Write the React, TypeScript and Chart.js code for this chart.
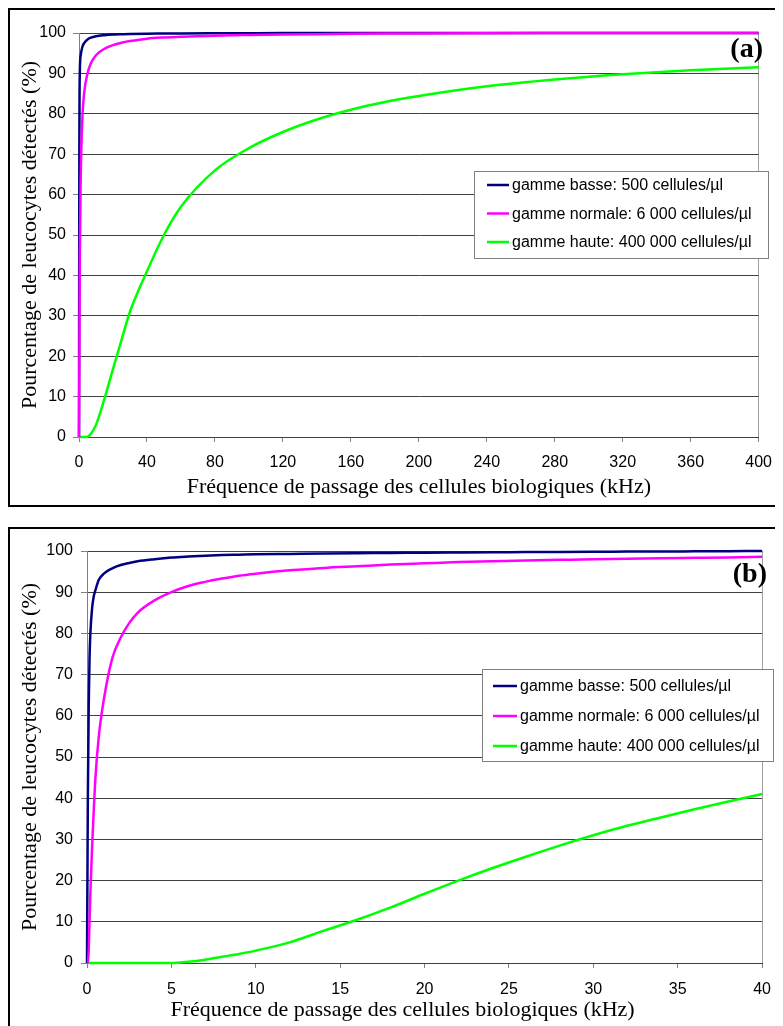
import React, { useEffect, useRef } from 'react';
import { Chart, registerables } from 'chart.js';

Chart.register(...registerables);

// ---------- data ----------
const seriesLabels = [
  'gamme basse: 500 cellules/µl',
  'gamme normale: 6 000 cellules/µl',
  'gamme haute: 400 000 cellules/µl',
];
const seriesColors = ['#000080', '#FF00FF', '#00FF00'];
const drawOrder = [1, 0, 2];

const xTitle = 'Fréquence de passage des cellules biologiques (kHz)';
const yTitle = 'Pourcentage de leucocytes détectés (%)';

const yTicks = [0, 10, 20, 30, 40, 50, 60, 70, 80, 90, 100];
const xTicksA = [0, 40, 80, 120, 160, 200, 240, 280, 320, 360, 400];
const xTicksB = [0, 5, 10, 15, 20, 25, 30, 35, 40];

// panel (a): 0 - 400 kHz
const freqA = [0, 0.2, 0.5, 1, 2, 3, 5, 7, 10, 15, 20, 25, 30, 40, 50, 60, 80, 100, 120, 140, 160, 180, 200, 240, 280, 320, 360, 400];
const basseA = [0, 70, 90.5, 94.5, 96.6, 97.5, 98.4, 98.85, 99.2, 99.45, 99.6, 99.68, 99.75, 99.82, 99.86, 99.9, 99.93, 99.95, 99.97, 99.98, 99.99, 100, 100, 100, 100, 100, 100, 100];
const normaleA = [0, 17, 45, 64, 79, 85, 90, 92.5, 94.5, 96.1, 97, 97.6, 98, 98.6, 98.9, 99.1, 99.35, 99.5, 99.62, 99.72, 99.8, 99.86, 99.9, 99.95, 99.98, 100, 100, 100];
const hauteA = [0, 0, 0, 0, 0, 0, 0.05, 0.8, 3, 9.5, 16.8, 24, 31, 41, 50, 57, 66, 71.5, 75.5, 78.6, 81, 82.9, 84.4, 86.8, 88.5, 89.8, 90.8, 91.5];

// panel (b): 0 - 40 kHz
const freqB = [0, 0.05, 0.1, 0.15, 0.2, 0.3, 0.4, 0.5, 0.7, 1, 1.5, 2, 2.5, 3, 4, 5, 6, 7, 8, 9, 10, 12, 14, 16, 18, 20, 22, 24, 26, 28, 30, 32, 34, 36, 38, 40];
const basseB = [0, 40, 62, 74, 80, 86, 89, 90.5, 93, 94.5, 95.8, 96.6, 97.1, 97.5, 98, 98.4, 98.65, 98.85, 99, 99.1, 99.2, 99.3, 99.4, 99.47, 99.53, 99.6, 99.65, 99.7, 99.74, 99.78, 99.82, 99.85, 99.88, 99.92, 99.96, 100];
const normaleB = [0, 0, 3, 10, 17, 28, 37, 45, 55, 64, 74, 79, 82.5, 85, 88, 90, 91.5, 92.5, 93.3, 94, 94.5, 95.3, 95.9, 96.3, 96.7, 97, 97.3, 97.5, 97.7, 97.85, 98, 98.1, 98.25, 98.35, 98.45, 98.6];
const hauteB = [0, 0, 0, 0, 0, 0, 0, 0, 0, 0, 0, 0, 0, 0, 0, 0, 0.3, 0.8, 1.5, 2.2, 3, 5, 7.8, 10.5, 13.5, 16.8, 20, 23, 25.8, 28.5, 31, 33.3, 35.3, 37.3, 39.2, 41];

// ---------- styling ----------
const SANS = "'Liberation Sans', Arial, sans-serif";
const SERIF = "'Liberation Serif', 'Times New Roman', serif";

const boxLegend = {
  id: 'boxLegend',
  afterDatasetsDraw(chart: any, _args: any, opts: any) {
    const { ctx, chartArea } = chart;
    const b = opts.box;
    ctx.save();
    ctx.fillStyle = '#ffffff';
    ctx.fillRect(b.x, b.y, b.w, b.h);
    ctx.strokeStyle = '#808080';
    ctx.lineWidth = 1;
    ctx.strokeRect(b.x + 0.5, b.y + 0.5, b.w, b.h);
    ctx.font = `16px ${SANS}`;
    ctx.textBaseline = 'middle';
    ctx.textAlign = 'left';
    seriesLabels.forEach((lab, i) => {
      const yy = b.y + opts.rows[i];
      ctx.strokeStyle = seriesColors[i];
      ctx.lineWidth = 2.5;
      ctx.beginPath();
      ctx.moveTo(b.x + opts.lineX0, yy);
      ctx.lineTo(b.x + opts.lineX1, yy);
      ctx.stroke();
      ctx.fillStyle = '#000';
      ctx.fillText(lab, b.x + opts.textX, yy + 1);
    });
    // panel tag
    ctx.font = `bold 28px ${SERIF}`;
    ctx.textAlign = 'right';
    ctx.fillStyle = '#000';
    ctx.fillText(opts.tag, opts.tagX, opts.tagY);
    // x axis title
    ctx.font = `22px ${SERIF}`;
    ctx.textAlign = 'center';
    ctx.textBaseline = 'middle';
    ctx.fillText(xTitle, (chartArea.left + chartArea.right) / 2 + opts.xTitleShift, chart.height - opts.xTitleFromBottom);
    ctx.restore();
  },
};

function ChartPanel(props: any) {
  const ref = useRef<HTMLCanvasElement>(null);
  useEffect(() => {
    const L = props.layout;
    const xMax = props.xTicks[props.xTicks.length - 1];
    const chart = new Chart(ref.current as HTMLCanvasElement, {
      type: 'line',
      data: {
        datasets: seriesLabels.map((label, i) => ({
          label,
          data: props.freq.map((f: number, j: number) => ({ x: f, y: props.values[i][j] })),
          borderColor: seriesColors[i],
          backgroundColor: seriesColors[i],
          borderWidth: 2.5,
          pointRadius: 0,
          cubicInterpolationMode: 'monotone',
          fill: false,
          order: drawOrder[i],
          clip: false,
        })),
      } as any,
      options: {
        responsive: false,
        animation: false,
        layout: { padding: { left: 0, top: L.top, right: L.right, bottom: 0 } },
        plugins: {
          legend: { display: false },
          tooltip: { enabled: false },
          boxLegend: props.legend,
        } as any,
        scales: {
          x: {
            type: 'linear',
            min: 0,
            max: xMax,
            afterBuildTicks: (s: any) => { s.ticks = props.xTicks.map((v: number) => ({ value: v })); },
            afterFit: (s: any) => { s.height = L.xH; },
            ticks: { font: { family: SANS, size: 16 }, color: '#000', padding: L.xTickPad, maxRotation: 0, autoSkip: false, callback: (v: any) => String(v) },
            grid: {
              color: (c: any) => (c.tick && c.tick.value === xMax ? '#a0a0a0' : 'rgba(0,0,0,0)'),
              tickColor: '#808080',
              tickLength: 5,
              drawTicks: true,
            },
            border: { display: true, color: '#404040', width: 1 },
            title: { display: false },
          },
          y: {
            type: 'linear',
            min: 0,
            max: 100,
            afterBuildTicks: (s: any) => { s.ticks = yTicks.map((v) => ({ value: v })); },
            afterFit: (s: any) => { s.width = L.yW; },
            ticks: { font: { family: SANS, size: 16 }, color: '#000', padding: L.yTickPad, callback: (v: any) => String(v) },
            grid: { color: '#404040', tickColor: '#808080', tickLength: 6, drawTicks: true },
            border: { display: true, color: '#808080', width: 1 },
            title: { display: true, text: yTitle, color: '#000', font: { family: SERIF, size: 22 }, padding: { top: L.yTitlePad, bottom: 0 } },
          },
        },
      } as any,
      plugins: [boxLegend as any],
    });
    return () => chart.destroy();
  }, []);
  return <canvas ref={ref} width={773} height={props.height} style={{ display: 'block' }} />;
}

export default function App() {
  useEffect(() => {
    document.body.style.overflow = 'hidden';
  }, []);
  const panelStyle: any = {
    position: 'absolute',
    left: 0,
    width: 800,
    border: '2px solid #000',
    boxSizing: 'border-box',
    background: '#fff',
    overflow: 'hidden',
  };
  return (
    <div style={{ position: 'relative', width: 775, height: 1018, overflow: 'hidden' }}>
      <div style={{ ...panelStyle, top: 0, height: 499 }}>
        <ChartPanel
          height={495}
          freq={freqA}
          values={[basseA, normaleA, hauteA]}
          xTicks={xTicksA}
          layout={{ top: 23, right: 14, yW: 69, xH: 68, xTickPad: 11, yTitlePad: 7, yTickPad: 7 }}
          legend={{ box: { x: 464, y: 161, w: 294, h: 87 }, rows: [14, 42.5, 71], lineX0: 13, lineX1: 35, textX: 38, tag: '(a)', tagX: 753, tagY: 40, xTitleShift: 0, xTitleFromBottom: 18 }}
        />
      </div>
      <div style={{ ...panelStyle, top: 519, height: 600 }}>
        <ChartPanel
          height={497}
          freq={freqB}
          values={[basseB, normaleB, hauteB]}
          xTicks={xTicksB}
          layout={{ top: 22, right: 10, yW: 77, xH: 63, xTickPad: 12, yTitlePad: 7, yTickPad: 8 }}
          legend={{ box: { x: 472, y: 140, w: 291, h: 92 }, rows: [17, 47, 77], lineX0: 11, lineX1: 35, textX: 38, tag: '(b)', tagX: 757, tagY: 46, xTitleShift: -22, xTitleFromBottom: 16 }}
        />
      </div>
    </div>
  );
}
